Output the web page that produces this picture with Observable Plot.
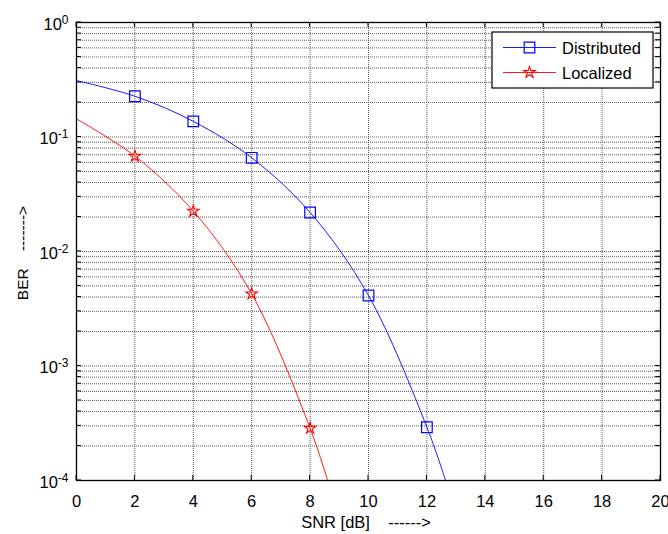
<!DOCTYPE html>
<html>
<head>
<meta charset="utf-8">
<script src="https://cdn.jsdelivr.net/npm/d3@7"></script>
<script src="https://cdn.jsdelivr.net/npm/@observablehq/plot@0.6"></script>
<style>
  html, body { margin: 0; padding: 0; background: #fff; }
  #chart { position: relative; width: 668px; height: 534px; }
  svg text { font-family: "Liberation Sans", Arial, sans-serif; }
</style>
</head>
<body>
<div id="chart"></div>
<script>
// ---- data ----
const snrTicks = [0, 2, 4, 6, 8, 10, 12, 14, 16, 18, 20];
const yDecades = [1e-4, 1e-3, 1e-2, 1e-1, 1];
const yExponents = ["-4", "-3", "-2", "-1", "0"];

const snrDistributed = [0, 2, 4, 6, 8, 10, 12, 12.64];
const berDistributed = [0.311, 0.227, 0.137, 0.0658, 0.0219, 0.00413, 0.000292, 0.0001];
const markerSnrDistributed = [2, 4, 6, 8, 10, 12];
const markerBerDistributed = [0.227, 0.137, 0.0658, 0.0219, 0.00413, 0.000292];

const snrLocalized = [0, 2, 4, 6, 8, 8.6];
const berLocalized = [0.144, 0.068, 0.0225, 0.00427, 0.000286, 0.0001];
const markerSnrLocalized = [2, 4, 6, 8];
const markerBerLocalized = [0.068, 0.0225, 0.00427, 0.000286];

const seriesNames = ["Distributed", "Localized"];
const seriesColors = ["#0000ff", "#ff0000"];
const seriesSymbols = ["square", "star"];

const xLabel = "SNR [dB]    ------>";
const yLabel = "BER    ------->";

(function () {
const FS = 16.5;
// ---- build tables ----
const lineD = snrDistributed.map((x, i) => ({x, y: berDistributed[i]}));
const lineL = snrLocalized.map((x, i) => ({x, y: berLocalized[i]}));
const dotD = markerSnrDistributed.map((x, i) => ({x, y: markerBerDistributed[i]}));
const dotL = markerSnrLocalized.map((x, i) => ({x, y: markerBerLocalized[i]}));

const minorY = [];
for (const d of yDecades.slice(0, -1)) for (let k = 1; k <= 9; k++) minorY.push(d * k);
minorY.push(1);

const plot = Plot.plot({
  width: 668,
  height: 534,
  marginLeft: 76,
  marginRight: 8,
  marginTop: 22,
  marginBottom: 54,
  style: {fontFamily: "Liberation Sans, Arial, sans-serif", fontSize: FS + "px", background: "#fff", overflow: "visible", color: "#000"},
  x: {domain: [0, 20]},
  y: {type: "log", domain: [1e-4, 1]},
  marks: [
    Plot.ruleX(snrTicks, {stroke: "#5a5a5a", strokeWidth: 1, strokeDasharray: "1,1"}),
    Plot.ruleY(minorY, {stroke: "#5a5a5a", strokeWidth: 1, strokeDasharray: "1,1"}),
    Plot.axisX({ticks: snrTicks, tickSize: 0, tickPadding: 15, tickFormat: d => String(d), fontSize: FS, label: null, fill: "#000"}),
    Plot.axisY({ticks: yDecades, tickSize: 0, tickPadding: 8, tickFormat: d => String(d), fontSize: FS, label: null, fill: "#000"}),
    Plot.line(lineD, {x: "x", y: "y", stroke: seriesColors[0], strokeWidth: 0.9, curve: "catmull-rom", clip: true}),
    Plot.line(lineL, {x: "x", y: "y", stroke: seriesColors[1], strokeWidth: 0.9, curve: "catmull-rom", clip: true}),
    Plot.dot(dotD, {x: "x", y: "y", symbol: seriesSymbols[0], r: 6, stroke: seriesColors[0], strokeWidth: 1.2, fill: "none"}),
    Plot.dot(dotL, {x: "x", y: "y", symbol: seriesSymbols[1], r: 3.6, stroke: seriesColors[1], strokeWidth: 1.1, fill: "none"}),
    Plot.frame({stroke: "#000", strokeWidth: 1.3})
  ]
});

const svg = d3.select(plot);
const xs = plot.scale("x"), ys = plot.scale("y");
const pLeft = xs.apply(0), pRight = xs.apply(20), pTop = ys.apply(1), pBottom = ys.apply(1e-4);

// superscript exponents on y tick labels
svg.selectAll("g[aria-label='y-axis tick label'] text").each(function () {
  const t = d3.select(this);
  const v = +t.text();
  const idx = yDecades.findIndex(e => Math.abs(e - v) < v * 1e-6);
  t.text(null);
  t.append("tspan").text("10");
  t.append("tspan").attr("dy", "-0.5em").attr("font-size", "12px").text(yExponents[idx]);
  t.attr("transform", (t.attr("transform") || "") + " translate(0,2)");
});

// inward ticks
const tk = svg.append("g").attr("stroke", "#000").attr("stroke-width", 1);
for (const v of snrTicks) {
  const x = xs.apply(v);
  tk.append("line").attr("x1", x).attr("x2", x).attr("y1", pBottom).attr("y2", pBottom - 5);
  tk.append("line").attr("x1", x).attr("x2", x).attr("y1", pTop).attr("y2", pTop + 5);
}
for (const v of minorY) {
  const y = ys.apply(v);
  tk.append("line").attr("x1", pLeft).attr("x2", pLeft + 5).attr("y1", y).attr("y2", y);
  tk.append("line").attr("x1", pRight).attr("x2", pRight - 5).attr("y1", y).attr("y2", y);
}

// axis titles
svg.append("text").attr("x", (pLeft + pRight) / 2 - 2).attr("y", 528).attr("text-anchor", "middle")
  .attr("font-size", FS).style("white-space", "pre").attr("fill", "#000").text(xLabel);
svg.append("text").attr("transform", `translate(28,${(pTop + pBottom) / 2 + 2}) rotate(-90)`).attr("text-anchor", "middle")
  .attr("font-size", 15.5).style("white-space", "pre").attr("fill", "#000").text(yLabel);

// legend
const lg = svg.append("g").attr("transform", `translate(${pRight - 168},${pTop + 10})`);
lg.append("rect").attr("width", 161).attr("height", 56).attr("fill", "#fff").attr("stroke", "#000").attr("stroke-width", 1.2);
seriesNames.forEach((name, i) => {
  const cy = 15.5 + i * 25;
  lg.append("line").attr("x1", 11).attr("x2", 64).attr("y1", cy).attr("y2", cy).attr("stroke", seriesColors[i]).attr("stroke-width", 0.9);
  const s = i === 0 ? d3.symbolSquare : d3.symbolStar;
  const size = i === 0 ? Math.PI * 36 : Math.PI * 3.6 * 3.6;
  lg.append("path").attr("d", d3.symbol(s, size)()).attr("transform", `translate(37.5,${cy})`)
    .attr("fill", "none").attr("stroke", seriesColors[i]).attr("stroke-width", i === 0 ? 1.2 : 1.1);
  lg.append("text").attr("x", 70).attr("y", cy + 6).attr("text-anchor", "start")
    .attr("font-size", FS).attr("fill", "#000").text(name);
});

document.getElementById("chart").appendChild(plot);
})();
</script>
</body>
</html>
